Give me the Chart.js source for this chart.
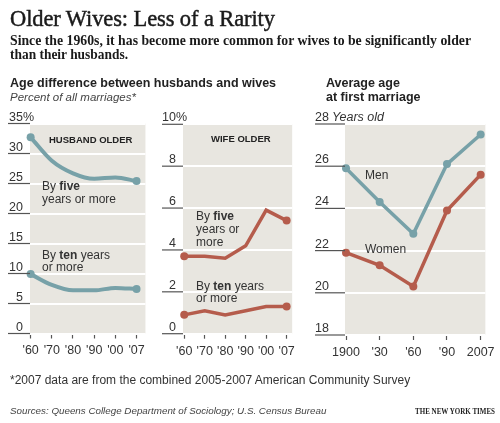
<!DOCTYPE html>
<html>
<head>
<meta charset="utf-8">
<script src="https://cdn.jsdelivr.net/npm/chart.js@4.4.1/dist/chart.umd.min.js"></script>
<style>
  html, body { margin: 0; padding: 0; background: #fff; }
  #page { position: relative; width: 500px; height: 423px; overflow: hidden; }
  #page canvas { position: absolute; }
  #husband { left: 0; top: 100px; }
  #wife { left: 150px; top: 100px; }
  #age { left: 300px; top: 100px; }
  #labels { position: absolute; left: 0; top: 0; pointer-events: none; }
  .serif { font-family: "Liberation Serif", "DejaVu Serif", serif; }
  .sans { font-family: "Liberation Sans", Arial, sans-serif; }
</style>
</head>
<body>
<div id="page">
  <canvas id="husband" width="150" height="265"></canvas>
  <canvas id="wife" width="150" height="265"></canvas>
  <canvas id="age" width="200" height="265"></canvas>

  <svg id="labels" width="500" height="423">
    <text class="serif" x="10" y="26" font-size="22.5" fill="#1a1a1a" stroke="#1a1a1a" stroke-width="0.45" textLength="265" lengthAdjust="spacing">Older Wives: Less of a Rarity</text>
    <text class="serif" x="10" y="45" font-size="14" font-weight="bold" fill="#1a1a1a" textLength="461" lengthAdjust="spacingAndGlyphs">Since the 1960s, it has become more common for wives to be significantly older</text>
    <text class="serif" x="10" y="59" font-size="14" font-weight="bold" fill="#1a1a1a" textLength="118" lengthAdjust="spacingAndGlyphs">than their husbands.</text>

    <text class="sans" x="10" y="87" font-size="12.5" font-weight="bold" fill="#222">Age difference between husbands and wives</text>
    <text class="sans" x="10" y="101" font-size="11.5" font-style="italic" fill="#444">Percent of all marriages*</text>
    <text class="sans" x="326" y="87" font-size="12.5" font-weight="bold" fill="#222">Average age</text>
    <text class="sans" x="326" y="101" font-size="12.5" font-weight="bold" fill="#222">at first marriage</text>

    <text class="sans" x="49" y="143" font-size="9.5" font-weight="bold" fill="#222">HUSBAND OLDER</text>
    <text class="sans" x="42" y="190" font-size="12" fill="#333">By <tspan font-weight="bold">five</tspan></text>
    <text class="sans" x="42" y="203" font-size="12" fill="#333">years or more</text>
    <text class="sans" x="42" y="259" font-size="12" fill="#333">By <tspan font-weight="bold">ten</tspan> years</text>
    <text class="sans" x="42" y="271" font-size="12" fill="#333">or more</text>

    <text class="sans" x="211" y="142" font-size="9.5" font-weight="bold" fill="#222">WIFE OLDER</text>
    <text class="sans" x="196" y="220" font-size="12" fill="#333">By <tspan font-weight="bold">five</tspan></text>
    <text class="sans" x="196" y="233" font-size="12" fill="#333">years or</text>
    <text class="sans" x="196" y="246" font-size="12" fill="#333">more</text>
    <text class="sans" x="196" y="290" font-size="12" fill="#333">By <tspan font-weight="bold">ten</tspan> years</text>
    <text class="sans" x="196" y="302" font-size="12" fill="#333">or more</text>

    <text class="sans" x="365" y="179" font-size="12" fill="#333">Men</text>
    <text class="sans" x="365" y="253" font-size="12" fill="#333">Women</text>

    <text class="sans" x="10" y="384" font-size="12" fill="#333">*2007 data are from the combined 2005-2007 American Community Survey</text>
    <text class="sans" x="10" y="414" font-size="9.8" font-style="italic" fill="#444">Sources: Queens College Department of Sociology; U.S. Census Bureau</text>
    <text class="serif" x="415" y="414" font-size="7.5" font-weight="bold" fill="#222" textLength="80" lengthAdjust="spacingAndGlyphs">THE NEW YORK TIMES</text>
  </svg>
</div>

<script>
// ---- data ----
const decadeLabels = ["'60", "'70", "'80", "'90", "'00", "'07"];
const husbandFive = [32.7, 28.8, 26.7, 25.8, 26.0, 25.4];
const husbandTen = [9.9, 8.1, 7.2, 7.2, 7.6, 7.4];
const wifeFive = [3.7, 3.7, 3.6, 4.2, 5.9, 5.4];
const wifeTen = [0.9, 1.1, 0.9, 1.1, 1.3, 1.3];

const yearLabels = ['1900', "'30", "'60", "'90", '2007'];
const menAge = [25.9, 24.3, 22.8, 26.1, 27.5];
const womenAge = [21.9, 21.3, 20.3, 23.9, 25.6];

const BLUE = '#77a1a8';
const RED = '#b55c4c';
const PANEL_BG = '#e8e6e0';
const TEXT = '#333';
const TICK_DARK = '#555';
const FONT = '"Liberation Sans", Arial, sans-serif';

// gray panel + y labels sitting on top of their dark tick lines
const panelDecor = {
    id: 'panelDecor',
    beforeDraw(chart) {
        const { ctx, chartArea: a } = chart;
        ctx.save();
        ctx.fillStyle = PANEL_BG;
        ctx.fillRect(a.left, a.top, a.right - a.left, a.bottom - a.top);
        ctx.restore();
    },
    afterDraw(chart, args, opts) {
        const { ctx, chartArea, scales: { y } } = chart;
        ctx.save();
        ctx.font = '12.5px ' + FONT;
        ctx.fillStyle = TEXT;
        ctx.strokeStyle = TICK_DARK;
        ctx.lineWidth = 1.2;
        ctx.textBaseline = 'alphabetic';
        y.ticks.forEach((t, i) => {
            const py = y.getPixelForValue(t.value);
            ctx.beginPath();
            ctx.moveTo(opts.lineFrom, py);
            ctx.lineTo(chartArea.left, py);
            ctx.stroke();

            const txt = String(t.value);
            ctx.textAlign = opts.align;
            ctx.fillText(txt, opts.labelX, py - 3);

            if (i === y.ticks.length - 1 && opts.suffix) {
                const w = ctx.measureText(txt).width;
                ctx.textAlign = 'left';
                if (opts.align === 'right') {
                    ctx.fillText(opts.suffix, opts.labelX, py - 3);
                } else {
                    ctx.font = 'italic 12.5px ' + FONT;
                    ctx.fillText(opts.suffix, opts.labelX + w + 3, py - 3);
                }
            }
        });
        ctx.restore();
    }
};

function toPoints(values) {
    return values.map((v, i) => ({ x: i, y: v }));
}

function endDots(ctx) {
    const last = ctx.dataset.data.length - 1;
    return (ctx.dataIndex === 0 || ctx.dataIndex === last) ? 4 : 0;
}

function makePanel(canvasId, opts) {
    const labels = opts.labels;
    new Chart(document.getElementById(canvasId).getContext('2d'), {
        type: 'line',
        data: {
            datasets: opts.series.map(s => ({
                data: toPoints(s.data),
                borderColor: s.color,
                backgroundColor: s.color,
                borderWidth: s.width,
                pointRadius: s.dots,
                pointBorderWidth: 0,
                cubicInterpolationMode: s.smooth ? 'monotone' : 'default',
                tension: 0,
                clip: false
            }))
        },
        options: {
            responsive: false,
            animation: false,
            events: [],
            layout: { padding: opts.padding },
            plugins: {
                legend: { display: false },
                tooltip: { enabled: false },
                panelDecor: opts.decor
            },
            scales: {
                x: {
                    type: 'linear',
                    min: opts.xMin,
                    max: opts.xMax,
                    afterBuildTicks: s => { s.ticks = labels.map((_, i) => ({ value: i })); },
                    afterFit: s => { s.height = 24; },
                    ticks: {
                        autoSkip: false,
                        maxRotation: 0,
                        padding: 5,
                        color: TEXT,
                        font: { family: FONT, size: 12.5 },
                        callback: v => labels[v]
                    },
                    grid: {
                        drawOnChartArea: false,
                        drawTicks: true,
                        tickLength: 5,
                        tickColor: TICK_DARK,
                        tickWidth: 1.2
                    },
                    border: { display: false }
                },
                y: {
                    min: opts.yMin,
                    max: opts.yMax,
                    afterFit: s => { s.width = 0; },
                    ticks: { display: false, stepSize: opts.yStep },
                    grid: { color: '#fff', lineWidth: 2, drawTicks: false },
                    border: { display: false }
                }
            }
        },
        plugins: [panelDecor]
    });
}

makePanel('husband', {
    labels: decadeLabels,
    xMin: -0.03, xMax: 5.42,
    yMin: 0, yMax: 35, yStep: 5,
    padding: { left: 30, right: 3, top: 23.5, bottom: 7.5 },
    decor: { lineFrom: 8, labelX: 23, align: 'right', suffix: '%' },
    series: [
        { data: husbandFive, color: BLUE, width: 4, dots: endDots, smooth: true },
        { data: husbandTen, color: BLUE, width: 4, dots: endDots, smooth: true }
    ]
});

makePanel('wife', {
    labels: decadeLabels,
    xMin: -0.06, xMax: 5.27,
    yMin: 0, yMax: 10, yStep: 2,
    padding: { left: 33, right: 3, top: 24.3, bottom: 7.3 },
    decor: { lineFrom: 12, labelX: 26, align: 'right', suffix: '%' },
    series: [
        { data: wifeFive, color: RED, width: 3.5, dots: endDots, smooth: false },
        { data: wifeTen, color: RED, width: 3.5, dots: endDots, smooth: false }
    ]
});

makePanel('age', {
    labels: yearLabels,
    xMin: -0.03, xMax: 4.14,
    yMin: 18, yMax: 28, yStep: 2,
    padding: { left: 45, right: 13, top: 24, bottom: 6 },
    decor: { lineFrom: 15, labelX: 15, align: 'left', suffix: 'Years old' },
    series: [
        { data: menAge, color: BLUE, width: 3.5, dots: 4, smooth: false },
        { data: womenAge, color: RED, width: 3.5, dots: 4, smooth: false }
    ]
});
</script>
</body>
</html>
